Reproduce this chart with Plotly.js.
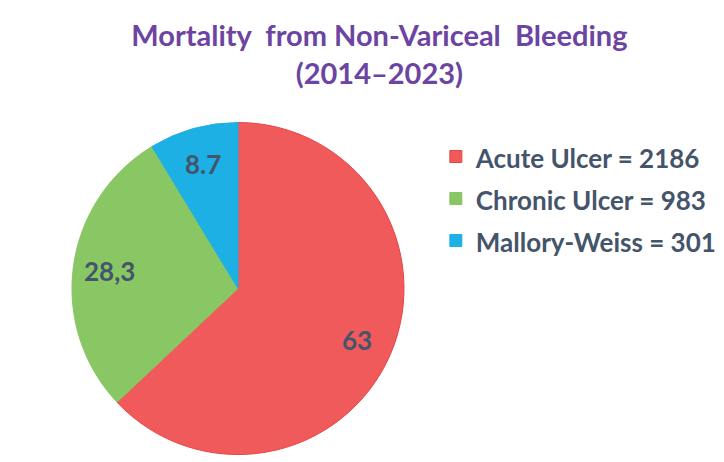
<!DOCTYPE html>
<html><head><meta charset="utf-8">
<script src="https://cdn.plot.ly/plotly-3.0.1.min.js"></script>
<style>html,body{margin:0;padding:0;background:#fff}#chart{width:724px;height:462px}</style>
</head><body><div id="chart"></div>
<script>
const categories = ["Acute Ulcer", "Chronic Ulcer", "Mallory-Weiss"];
const deaths = [2186, 983, 301];
const sliceLabels = ["63", "28,3", "8.7"];
const colors = ["#F05A5B", "#89C664", "#1CB0E4"];
const lineColors = ["#E84444", "#89C664", "#1CB0E4"];

const W = 724, H = 462;
const dom = {x: [0.0994, 0.558], y: [0.015, 0.736]};
const font = "Lato, 'Open Sans', sans-serif";

const trace = {
  type: "pie",
  values: deaths,
  labels: categories.map((c, i) => "<span style='font-size:26px'>" + c + " = " + deaths[i] + "</span>"),
  textinfo: "none",
  sort: false,
  direction: "clockwise",
  rotation: 0,
  marker: {colors: colors, line: {color: lineColors, width: 1}},
  domain: dom,
  hoverinfo: "none"
};

// slice label positions derived from the slice angles
const total = deaths.reduce((a, b) => a + b, 0);
const cx = (dom.x[0] + dom.x[1]) / 2 * W;
const cy = (1 - (dom.y[0] + dom.y[1]) / 2) * H;
const R = Math.min((dom.x[1] - dom.x[0]) * W, (dom.y[1] - dom.y[0]) * H) / 2;
let cum = 0;
const annotations = deaths.map((v, i) => {
  const mid = (cum + v / 2) / total * 2 * Math.PI;
  cum += v;
  const r = 0.78 * R;
  const px = cx + r * Math.sin(mid), py = cy - r * Math.cos(mid);
  return {
    x: px / W, y: 1 - py / H, xref: "paper", yref: "paper",
    text: sliceLabels[i], showarrow: false, xanchor: "center", yanchor: "middle",
    font: {family: font, size: 26, color: "#44546A", weight: "bold"}
  };
});

const layout = {
  width: W, height: H,
  margin: {l: 0, r: 0, t: 0, b: 0},
  paper_bgcolor: "#fff",
  title: {
    text: "Mortality  from Non-Variceal  Bleeding<br>(2014–2023)",
    font: {family: font, size: 29, color: "#6C44A2", weight: "bold"},
    x: 0.524, xanchor: "center", y: 0.9, yanchor: "top"
  },
  annotations: annotations,
  showlegend: true,
  legend: {
    x: 0.602, y: 0.7175, xanchor: "left", yanchor: "top",
    font: {family: font, size: 30, color: "#44546A", weight: "bold"},
    itemwidth: 30,
    bgcolor: "rgba(0,0,0,0)"
  }
};
Plotly.newPlot("chart", [trace], layout, {displayModeBar: false, staticPlot: true});
</script></body></html>
